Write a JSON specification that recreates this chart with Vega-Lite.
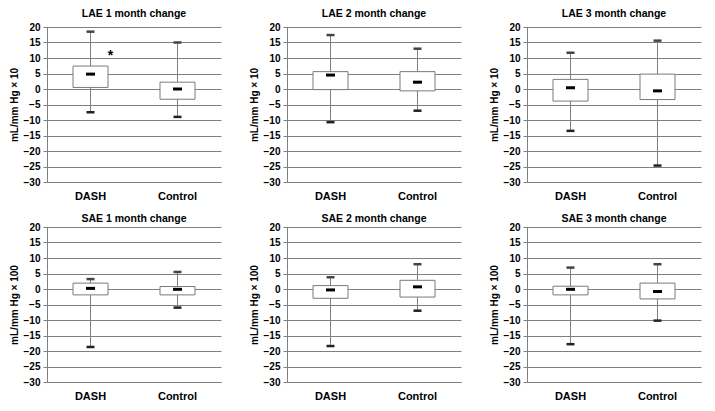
{
  "$schema": "https://vega.github.io/schema/vega-lite/v6.json",
  "background": "white",
  "padding": {"left": 9, "top": 8, "right": 5, "bottom": 2},
  "datasets": {
    "box": [
      {"panel": "LAE1", "group": "DASH", "min": -7.5, "q1": 0.5, "median": 4.8, "q3": 7.4, "max": 18.5, "sig": "*", "sig_y": 11.6},
      {"panel": "LAE1", "group": "Control", "min": -9.0, "q1": -3.3, "median": 0.0, "q3": 2.2, "max": 15.0},
      {"panel": "LAE2", "group": "DASH", "min": -10.7, "q1": -0.2, "median": 4.5, "q3": 5.6, "max": 17.4},
      {"panel": "LAE2", "group": "Control", "min": -7.0, "q1": -0.6, "median": 2.2, "q3": 5.6, "max": 13.0},
      {"panel": "LAE3", "group": "DASH", "min": -13.5, "q1": -3.9, "median": 0.4, "q3": 3.1, "max": 11.7},
      {"panel": "LAE3", "group": "Control", "min": -24.7, "q1": -3.4, "median": -0.6, "q3": 4.8, "max": 15.6},
      {"panel": "SAE1", "group": "DASH", "min": -18.7, "q1": -1.9, "median": 0.2, "q3": 1.9, "max": 3.2},
      {"panel": "SAE1", "group": "Control", "min": -6.0, "q1": -1.9, "median": -0.1, "q3": 0.8, "max": 5.5},
      {"panel": "SAE2", "group": "DASH", "min": -18.4, "q1": -3.0, "median": -0.3, "q3": 1.1, "max": 3.8},
      {"panel": "SAE2", "group": "Control", "min": -7.0, "q1": -2.6, "median": 0.7, "q3": 2.8, "max": 8.0},
      {"panel": "SAE3", "group": "DASH", "min": -17.8, "q1": -1.9, "median": -0.1, "q3": 0.9, "max": 6.9},
      {"panel": "SAE3", "group": "Control", "min": -10.2, "q1": -3.2, "median": -0.8, "q3": 1.9, "max": 8.0}
    ]
  },
  "spacing": 12,
  "vconcat": [
    {
      "spacing": 28,
      "hconcat": [
        {
          "title": {"text": "LAE 1 month change", "offset": 3},
          "width": 174, "height": 155,
          "data": {"name": "box"},
          "transform": [{"filter": "datum.panel === 'LAE1'"}],
          "encoding": {"x": {"field": "group", "type": "nominal", "sort": ["DASH", "Control"], "scale": {"paddingInner": 0, "paddingOuter": 0}, "title": null}},
          "layer": [
            {"mark": {"type": "rule", "color": "#808080", "strokeWidth": 1}, "encoding": {"y": {"field": "min", "type": "quantitative", "scale": {"domain": [-30, 20], "nice": false}, "title": "mL/mm Hg × 10", "axis": {"values": [-30, -25, -20, -15, -10, -5, 0, 5, 10, 15, 20]}}, "y2": {"field": "max"}}},
            {"mark": {"type": "bar", "size": 35, "fill": "white", "stroke": "#7a7a7a", "strokeWidth": 1, "opacity": 1}, "encoding": {"y": {"field": "q1", "type": "quantitative", "scale": {"domain": [-30, 20], "nice": false}, "title": "mL/mm Hg × 10", "axis": {"values": [-30, -25, -20, -15, -10, -5, 0, 5, 10, 15, 20]}}, "y2": {"field": "q3"}}},
            {"mark": {"type": "tick", "size": 9, "thickness": 3, "color": "black", "opacity": 1}, "encoding": {"y": {"field": "median", "type": "quantitative", "scale": {"domain": [-30, 20], "nice": false}, "title": "mL/mm Hg × 10", "axis": {"values": [-30, -25, -20, -15, -10, -5, 0, 5, 10, 15, 20]}}}},
            {"mark": {"type": "tick", "size": 8, "thickness": 2.5, "color": "#222222", "opacity": 1}, "encoding": {"y": {"field": "min", "type": "quantitative", "scale": {"domain": [-30, 20], "nice": false}, "title": "mL/mm Hg × 10", "axis": {"values": [-30, -25, -20, -15, -10, -5, 0, 5, 10, 15, 20]}}}},
            {"mark": {"type": "tick", "size": 8, "thickness": 2.5, "color": "#444444", "opacity": 1}, "encoding": {"y": {"field": "max", "type": "quantitative", "scale": {"domain": [-30, 20], "nice": false}, "title": "mL/mm Hg × 10", "axis": {"values": [-30, -25, -20, -15, -10, -5, 0, 5, 10, 15, 20]}}}},
            {"transform": [{"filter": "datum.sig"}], "mark": {"type": "text", "dx": 20, "dy": 3, "fontSize": 14, "fontWeight": "bold", "baseline": "middle", "color": "black"}, "encoding": {"y": {"field": "sig_y", "type": "quantitative", "scale": {"domain": [-30, 20], "nice": false}, "title": "mL/mm Hg × 10", "axis": {"values": [-30, -25, -20, -15, -10, -5, 0, 5, 10, 15, 20]}}, "text": {"field": "sig"}}}
          ]
        },
        {
          "title": {"text": "LAE 2 month change", "offset": 3},
          "width": 174, "height": 155,
          "data": {"name": "box"},
          "transform": [{"filter": "datum.panel === 'LAE2'"}],
          "encoding": {"x": {"field": "group", "type": "nominal", "sort": ["DASH", "Control"], "scale": {"paddingInner": 0, "paddingOuter": 0}, "title": null}},
          "layer": [
            {"mark": {"type": "rule", "color": "#808080", "strokeWidth": 1}, "encoding": {"y": {"field": "min", "type": "quantitative", "scale": {"domain": [-30, 20], "nice": false}, "title": "mL/mm Hg × 10", "axis": {"values": [-30, -25, -20, -15, -10, -5, 0, 5, 10, 15, 20]}}, "y2": {"field": "max"}}},
            {"mark": {"type": "bar", "size": 35, "fill": "white", "stroke": "#7a7a7a", "strokeWidth": 1, "opacity": 1}, "encoding": {"y": {"field": "q1", "type": "quantitative", "scale": {"domain": [-30, 20], "nice": false}, "title": "mL/mm Hg × 10", "axis": {"values": [-30, -25, -20, -15, -10, -5, 0, 5, 10, 15, 20]}}, "y2": {"field": "q3"}}},
            {"mark": {"type": "tick", "size": 9, "thickness": 3, "color": "black", "opacity": 1}, "encoding": {"y": {"field": "median", "type": "quantitative", "scale": {"domain": [-30, 20], "nice": false}, "title": "mL/mm Hg × 10", "axis": {"values": [-30, -25, -20, -15, -10, -5, 0, 5, 10, 15, 20]}}}},
            {"mark": {"type": "tick", "size": 8, "thickness": 2.5, "color": "#222222", "opacity": 1}, "encoding": {"y": {"field": "min", "type": "quantitative", "scale": {"domain": [-30, 20], "nice": false}, "title": "mL/mm Hg × 10", "axis": {"values": [-30, -25, -20, -15, -10, -5, 0, 5, 10, 15, 20]}}}},
            {"mark": {"type": "tick", "size": 8, "thickness": 2.5, "color": "#444444", "opacity": 1}, "encoding": {"y": {"field": "max", "type": "quantitative", "scale": {"domain": [-30, 20], "nice": false}, "title": "mL/mm Hg × 10", "axis": {"values": [-30, -25, -20, -15, -10, -5, 0, 5, 10, 15, 20]}}}}
          ]
        },
        {
          "title": {"text": "LAE 3 month change", "offset": 3},
          "width": 174, "height": 155,
          "data": {"name": "box"},
          "transform": [{"filter": "datum.panel === 'LAE3'"}],
          "encoding": {"x": {"field": "group", "type": "nominal", "sort": ["DASH", "Control"], "scale": {"paddingInner": 0, "paddingOuter": 0}, "title": null}},
          "layer": [
            {"mark": {"type": "rule", "color": "#808080", "strokeWidth": 1}, "encoding": {"y": {"field": "min", "type": "quantitative", "scale": {"domain": [-30, 20], "nice": false}, "title": "mL/mm Hg × 10", "axis": {"values": [-30, -25, -20, -15, -10, -5, 0, 5, 10, 15, 20]}}, "y2": {"field": "max"}}},
            {"mark": {"type": "bar", "size": 35, "fill": "white", "stroke": "#7a7a7a", "strokeWidth": 1, "opacity": 1}, "encoding": {"y": {"field": "q1", "type": "quantitative", "scale": {"domain": [-30, 20], "nice": false}, "title": "mL/mm Hg × 10", "axis": {"values": [-30, -25, -20, -15, -10, -5, 0, 5, 10, 15, 20]}}, "y2": {"field": "q3"}}},
            {"mark": {"type": "tick", "size": 9, "thickness": 3, "color": "black", "opacity": 1}, "encoding": {"y": {"field": "median", "type": "quantitative", "scale": {"domain": [-30, 20], "nice": false}, "title": "mL/mm Hg × 10", "axis": {"values": [-30, -25, -20, -15, -10, -5, 0, 5, 10, 15, 20]}}}},
            {"mark": {"type": "tick", "size": 8, "thickness": 2.5, "color": "#222222", "opacity": 1}, "encoding": {"y": {"field": "min", "type": "quantitative", "scale": {"domain": [-30, 20], "nice": false}, "title": "mL/mm Hg × 10", "axis": {"values": [-30, -25, -20, -15, -10, -5, 0, 5, 10, 15, 20]}}}},
            {"mark": {"type": "tick", "size": 8, "thickness": 2.5, "color": "#444444", "opacity": 1}, "encoding": {"y": {"field": "max", "type": "quantitative", "scale": {"domain": [-30, 20], "nice": false}, "title": "mL/mm Hg × 10", "axis": {"values": [-30, -25, -20, -15, -10, -5, 0, 5, 10, 15, 20]}}}}
          ]
        }
      ]
    },
    {
      "spacing": 28,
      "hconcat": [
        {
          "title": {"text": "SAE 1 month change", "offset": -2},
          "width": 174, "height": 155,
          "data": {"name": "box"},
          "transform": [{"filter": "datum.panel === 'SAE1'"}],
          "encoding": {"x": {"field": "group", "type": "nominal", "sort": ["DASH", "Control"], "scale": {"paddingInner": 0, "paddingOuter": 0}, "title": null}},
          "layer": [
            {"mark": {"type": "rule", "color": "#808080", "strokeWidth": 1}, "encoding": {"y": {"field": "min", "type": "quantitative", "scale": {"domain": [-30, 20], "nice": false}, "title": "mL/mm Hg × 100", "axis": {"values": [-30, -25, -20, -15, -10, -5, 0, 5, 10, 15, 20]}}, "y2": {"field": "max"}}},
            {"mark": {"type": "bar", "size": 35, "fill": "white", "stroke": "#7a7a7a", "strokeWidth": 1, "opacity": 1}, "encoding": {"y": {"field": "q1", "type": "quantitative", "scale": {"domain": [-30, 20], "nice": false}, "title": "mL/mm Hg × 100", "axis": {"values": [-30, -25, -20, -15, -10, -5, 0, 5, 10, 15, 20]}}, "y2": {"field": "q3"}}},
            {"mark": {"type": "tick", "size": 9, "thickness": 3, "color": "black", "opacity": 1}, "encoding": {"y": {"field": "median", "type": "quantitative", "scale": {"domain": [-30, 20], "nice": false}, "title": "mL/mm Hg × 100", "axis": {"values": [-30, -25, -20, -15, -10, -5, 0, 5, 10, 15, 20]}}}},
            {"mark": {"type": "tick", "size": 8, "thickness": 2.5, "color": "#222222", "opacity": 1}, "encoding": {"y": {"field": "min", "type": "quantitative", "scale": {"domain": [-30, 20], "nice": false}, "title": "mL/mm Hg × 100", "axis": {"values": [-30, -25, -20, -15, -10, -5, 0, 5, 10, 15, 20]}}}},
            {"mark": {"type": "tick", "size": 8, "thickness": 2.5, "color": "#444444", "opacity": 1}, "encoding": {"y": {"field": "max", "type": "quantitative", "scale": {"domain": [-30, 20], "nice": false}, "title": "mL/mm Hg × 100", "axis": {"values": [-30, -25, -20, -15, -10, -5, 0, 5, 10, 15, 20]}}}}
          ]
        },
        {
          "title": {"text": "SAE 2 month change", "offset": -2},
          "width": 174, "height": 155,
          "data": {"name": "box"},
          "transform": [{"filter": "datum.panel === 'SAE2'"}],
          "encoding": {"x": {"field": "group", "type": "nominal", "sort": ["DASH", "Control"], "scale": {"paddingInner": 0, "paddingOuter": 0}, "title": null}},
          "layer": [
            {"mark": {"type": "rule", "color": "#808080", "strokeWidth": 1}, "encoding": {"y": {"field": "min", "type": "quantitative", "scale": {"domain": [-30, 20], "nice": false}, "title": "mL/mm Hg × 100", "axis": {"values": [-30, -25, -20, -15, -10, -5, 0, 5, 10, 15, 20]}}, "y2": {"field": "max"}}},
            {"mark": {"type": "bar", "size": 35, "fill": "white", "stroke": "#7a7a7a", "strokeWidth": 1, "opacity": 1}, "encoding": {"y": {"field": "q1", "type": "quantitative", "scale": {"domain": [-30, 20], "nice": false}, "title": "mL/mm Hg × 100", "axis": {"values": [-30, -25, -20, -15, -10, -5, 0, 5, 10, 15, 20]}}, "y2": {"field": "q3"}}},
            {"mark": {"type": "tick", "size": 9, "thickness": 3, "color": "black", "opacity": 1}, "encoding": {"y": {"field": "median", "type": "quantitative", "scale": {"domain": [-30, 20], "nice": false}, "title": "mL/mm Hg × 100", "axis": {"values": [-30, -25, -20, -15, -10, -5, 0, 5, 10, 15, 20]}}}},
            {"mark": {"type": "tick", "size": 8, "thickness": 2.5, "color": "#222222", "opacity": 1}, "encoding": {"y": {"field": "min", "type": "quantitative", "scale": {"domain": [-30, 20], "nice": false}, "title": "mL/mm Hg × 100", "axis": {"values": [-30, -25, -20, -15, -10, -5, 0, 5, 10, 15, 20]}}}},
            {"mark": {"type": "tick", "size": 8, "thickness": 2.5, "color": "#444444", "opacity": 1}, "encoding": {"y": {"field": "max", "type": "quantitative", "scale": {"domain": [-30, 20], "nice": false}, "title": "mL/mm Hg × 100", "axis": {"values": [-30, -25, -20, -15, -10, -5, 0, 5, 10, 15, 20]}}}}
          ]
        },
        {
          "title": {"text": "SAE 3 month change", "offset": -2},
          "width": 174, "height": 155,
          "data": {"name": "box"},
          "transform": [{"filter": "datum.panel === 'SAE3'"}],
          "encoding": {"x": {"field": "group", "type": "nominal", "sort": ["DASH", "Control"], "scale": {"paddingInner": 0, "paddingOuter": 0}, "title": null}},
          "layer": [
            {"mark": {"type": "rule", "color": "#808080", "strokeWidth": 1}, "encoding": {"y": {"field": "min", "type": "quantitative", "scale": {"domain": [-30, 20], "nice": false}, "title": "mL/mm Hg × 100", "axis": {"values": [-30, -25, -20, -15, -10, -5, 0, 5, 10, 15, 20]}}, "y2": {"field": "max"}}},
            {"mark": {"type": "bar", "size": 35, "fill": "white", "stroke": "#7a7a7a", "strokeWidth": 1, "opacity": 1}, "encoding": {"y": {"field": "q1", "type": "quantitative", "scale": {"domain": [-30, 20], "nice": false}, "title": "mL/mm Hg × 100", "axis": {"values": [-30, -25, -20, -15, -10, -5, 0, 5, 10, 15, 20]}}, "y2": {"field": "q3"}}},
            {"mark": {"type": "tick", "size": 9, "thickness": 3, "color": "black", "opacity": 1}, "encoding": {"y": {"field": "median", "type": "quantitative", "scale": {"domain": [-30, 20], "nice": false}, "title": "mL/mm Hg × 100", "axis": {"values": [-30, -25, -20, -15, -10, -5, 0, 5, 10, 15, 20]}}}},
            {"mark": {"type": "tick", "size": 8, "thickness": 2.5, "color": "#222222", "opacity": 1}, "encoding": {"y": {"field": "min", "type": "quantitative", "scale": {"domain": [-30, 20], "nice": false}, "title": "mL/mm Hg × 100", "axis": {"values": [-30, -25, -20, -15, -10, -5, 0, 5, 10, 15, 20]}}}},
            {"mark": {"type": "tick", "size": 8, "thickness": 2.5, "color": "#444444", "opacity": 1}, "encoding": {"y": {"field": "max", "type": "quantitative", "scale": {"domain": [-30, 20], "nice": false}, "title": "mL/mm Hg × 100", "axis": {"values": [-30, -25, -20, -15, -10, -5, 0, 5, 10, 15, 20]}}}}
          ]
        }
      ]
    }
  ],
  "config": {
    "font": "Liberation Sans",
    "view": {"stroke": null},
    "title": {"font": "Liberation Sans", "fontSize": 10.5, "fontWeight": "bold", "color": "black", "anchor": "middle"},
    "axisY": {
      "grid": true, "gridColor": "#7f7f7f", "gridOpacity": 1, "gridWidth": 1,
      "domainColor": "#7f7f7f", "tickColor": "#7f7f7f", "tickSize": 4, "labelOverlap": false,
      "labelPadding": 3, "labelFont": "Liberation Sans", "labelFontSize": 10, "labelFontWeight": "bold", "labelColor": "black",
      "titleFont": "Liberation Sans", "titleFontSize": 10, "titleFontWeight": "bold", "titleColor": "black", "titlePadding": 4
    },
    "axisX": {
      "labelAngle": 0, "ticks": false, "grid": false, "domainColor": "#7f7f7f",
      "labelFont": "Liberation Sans", "labelFontSize": 11, "labelFontWeight": "bold", "labelColor": "black", "labelPadding": 8
    }
  }
}
